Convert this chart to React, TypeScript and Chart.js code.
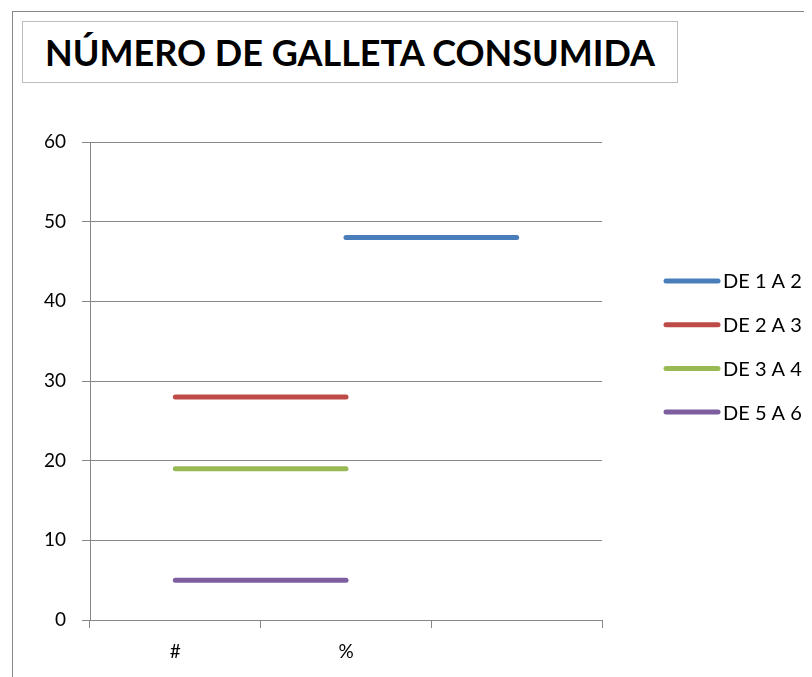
import React, { useEffect, useRef } from "react";
import { Chart, registerables } from "chart.js";

Chart.register(...registerables);

// Categories along the x axis (the third slot has no label)
const categories: string[] = ["#", "%", ""];

// Series values per category
const seriesNames: string[] = ["DE 1 A 2", "DE 2 A 3", "DE 3 A 4", "DE 5 A 6"];
const de1a2: (number | null)[] = [null, 48, 48];
const de2a3: (number | null)[] = [28, 28, null];
const de3a4: (number | null)[] = [19, 19, null];
const de5a6: (number | null)[] = [5, 5, null];

// Y axis range and tick step
const yMin = 0;
const yMax = 60;
const yStep = 10;

const seriesColors = ["#4A7EBB", "#BE4B48", "#98B954", "#7D5FA0"];
const GRID = "#878787";
const FONT = 'Lato, "Open Sans", sans-serif';

// Legend drawn on the canvas: short thick line followed by the series name
const sideLegend = {
  id: "sideLegend",
  afterDraw(chart: any, _args: any, opts: any) {
    const ctx = chart.ctx;
    ctx.save();
    chart.data.datasets.forEach((ds: any, i: number) => {
      const y = opts.top + i * opts.gap;
      ctx.beginPath();
      ctx.lineWidth = 5;
      ctx.lineCap = "round";
      ctx.strokeStyle = ds.borderColor;
      ctx.moveTo(opts.x, y);
      ctx.lineTo(opts.x + opts.lineLen, y);
      ctx.stroke();
      ctx.fillStyle = "#000";
      ctx.font = `20px ${FONT}`;
      ctx.textBaseline = "middle";
      ctx.textAlign = "left";
      ctx.fillText(ds.label, opts.x + opts.lineLen + 5, y + 1);
    });
    ctx.restore();
  },
};

export default function App() {
  const canvasRef = useRef<HTMLCanvasElement | null>(null);

  useEffect(() => {
    const canvas = canvasRef.current;
    if (!canvas) return;
    const values = [de1a2, de2a3, de3a4, de5a6];
    const chart = new Chart(canvas, {
      type: "line",
      data: {
        labels: categories,
        datasets: values.map((v, i) => ({
          label: seriesNames[i],
          data: v,
          borderColor: seriesColors[i],
          backgroundColor: seriesColors[i],
          borderWidth: 5,
          borderCapStyle: "round" as const,
          pointRadius: 0,
          pointHoverRadius: 0,
          spanGaps: false,
          tension: 0,
        })),
      },
      options: {
        responsive: false,
        animation: false,
        events: [],
        layout: { padding: { left: 0, right: 210, top: 134, bottom: 0 } },
        plugins: {
          legend: { display: false },
          title: { display: false },
          tooltip: { enabled: false },
          sideLegend: { x: 658, lineLen: 52, top: 273, gap: 43.7 },
        } as any,
        scales: {
          x: {
            type: "category",
            offset: true,
            grid: {
              offset: true,
              drawOnChartArea: false,
              drawTicks: true,
              tickLength: 8,
              color: GRID,
            },
            border: { color: GRID, width: 1 },
            ticks: {
              color: "#000",
              font: { family: FONT, size: 19 },
              padding: 12,
              maxRotation: 0,
            },
            afterFit(scale: any) {
              scale.height = 57;
            },
          },
          y: {
            min: yMin,
            max: yMax,
            grid: {
              color: GRID,
              drawTicks: true,
              tickLength: 8,
            },
            border: { color: GRID, width: 1 },
            ticks: {
              stepSize: yStep,
              color: "#000",
              font: { family: FONT, size: 19 },
              padding: 16,
            },
            afterFit(scale: any) {
              scale.width = 82;
            },
          },
        },
      },
      plugins: [sideLegend],
    });
    return () => chart.destroy();
  }, []);

  return (
    <div
      style={{
        position: "relative",
        width: 804,
        height: 669,
        overflow: "hidden",
        background: "#fff",
      }}
    >
      <div
        style={{
          position: "absolute",
          left: 4,
          top: 3,
          width: 1000,
          height: 1000,
          borderLeft: `1px solid ${GRID}`,
          borderTop: `1px solid ${GRID}`,
          boxSizing: "border-box",
        }}
      />
      <canvas
        ref={canvasRef}
        width={804}
        height={669}
        style={{ position: "absolute", left: 0, top: 0, width: 804, height: 669 }}
      />
      <div
        style={{
          position: "absolute",
          left: 14,
          top: 13,
          height: 62,
          boxSizing: "border-box",
          border: "1px solid #BDBDBD",
          padding: "0 22px",
          display: "flex",
          alignItems: "center",
          fontFamily: FONT,
          fontWeight: 700,
          fontSize: 36,
          color: "#000",
          whiteSpace: "nowrap",
          background: "#fff",
        }}
      >
        NÚMERO DE GALLETA CONSUMIDA
      </div>
    </div>
  );
}
